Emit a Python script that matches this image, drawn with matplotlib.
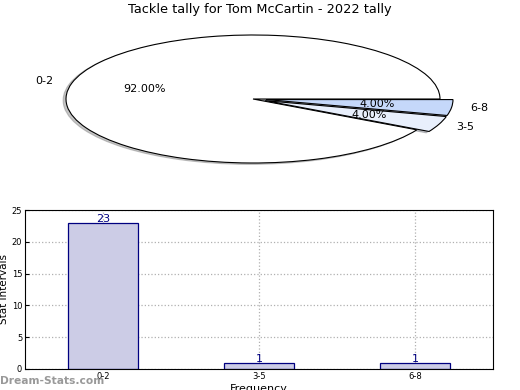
import matplotlib
matplotlib.use("Agg")
import matplotlib.pyplot as plt

categories = ["0-2", "3-5", "6-8"]
counts = [23, 1, 1]
pie_colors = ["#ffffff", "#e8effc", "#c5d8fa"]
explode = [0, 0.07, 0.07]
title = "Tackle tally for Tom McCartin - 2022 tally"

W, H = 520, 390
fig = plt.figure(figsize=(W / 100, H / 100), dpi=100)

# Pie axes
axp = fig.add_axes([19.25 / W, 1 - 179 / H, 467.5 / W, 160 / H])
wedges, texts, autotexts = axp.pie(
    counts, labels=categories, colors=pie_colors, explode=explode,
    autopct="%1.2f%%", shadow={"ox": -0.011, "oy": -0.015, "shade": 0.45},
    startangle=0, counterclock=True,
    pctdistance=0.6, labeldistance=1.1,
    wedgeprops=dict(edgecolor="black", linewidth=0.8),
    textprops=dict(fontsize=8),
)
axp.set_aspect("auto")
axp.set_xlim(-1.25, 1.25)
axp.set_ylim(-1.25, 1.25)
axp.axis("off")

fig.text(259.5 / W, 1 - 10 / H, title, ha="center", va="center", fontsize=9.3)

# Bar axes
axb = fig.add_axes([25 / W, 1 - 369 / H, 468 / W, 159 / H])
x = list(range(len(categories)))
bars = axb.bar(x, counts, width=0.45, color="#ccccE6", edgecolor="#000080",
               linewidth=0.9, zorder=2)
for xi, v in zip(x, counts):
    axb.text(xi, v - 0.25, str(v), ha="center", va="bottom", fontsize=8,
             color="#000080", zorder=3)
axb.set_xlim(-0.5, 2.5)
axb.set_ylim(0, 25)
axb.set_yticks([0, 5, 10, 15, 20, 25])
axb.set_xticks(x)
axb.set_xticklabels(categories)
axb.tick_params(axis="both", labelsize=6, direction="in", length=3, pad=2)
axb.grid(True, linestyle=":", color="#b0b0b0", linewidth=0.9, zorder=0)
axb.set_axisbelow(True)
axb.set_ylabel("Stat Intervals", fontsize=7.5)
axb.yaxis.set_label_coords(-0.034, 0.5)
axb.set_xlabel("Frequency", fontsize=8, labelpad=2)

fig.text(0 / W, 1 - 381 / H, "Dream-Stats.com", ha="left", va="center",
         fontsize=7.7, color="#999999", fontweight="bold")

fig.savefig("out.png", dpi=100)
